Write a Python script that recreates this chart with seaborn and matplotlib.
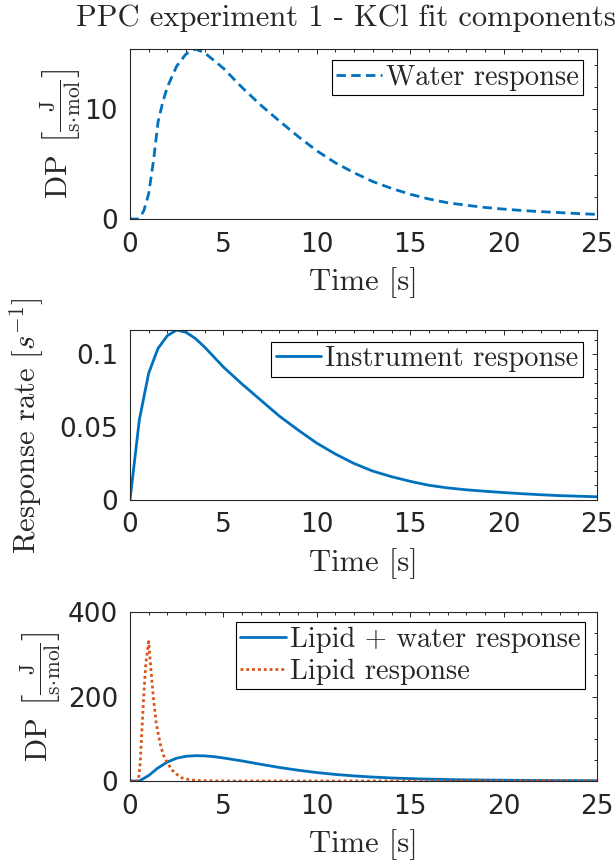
import matplotlib
matplotlib.use("Agg")
import matplotlib.pyplot as plt
from matplotlib.ticker import MultipleLocator
import pandas as pd
import seaborn as sns

# ---- fitted components of PPC experiment 1 (KCl) ----
water_t = [0, 0.5, 0.75, 1.0, 1.25, 1.5, 1.75, 2.0, 2.5, 3.0, 3.5, 4.0, 5, 6, 7, 8, 9,
           10, 11, 12, 13, 14, 15, 16, 17, 18, 19, 20, 21, 22, 23, 24, 25]
water_dp = [0, 0, 0.8, 2.3, 5.2, 8.8, 10.6, 12.0, 13.9, 15.0, 15.45, 15.1, 13.7, 11.95,
            10.35, 8.9, 7.5, 6.2, 5.1, 4.2, 3.4, 2.78, 2.25, 1.82, 1.48, 1.25, 1.05, 0.9,
            0.77, 0.67, 0.58, 0.49, 0.42]

instr_t = [0, 0.5, 1.0, 1.5, 2.0, 2.5, 3.0, 3.5, 4.0, 4.5, 5, 6, 7, 8, 9, 10, 11, 12,
           13, 14, 15, 16, 17, 18, 19, 20, 21, 22, 23, 24, 25]
instr_rate = [0, 0.055, 0.087, 0.104, 0.1127, 0.1166, 0.115, 0.1108, 0.1048, 0.098,
              0.0912, 0.0795, 0.0685, 0.0575, 0.048, 0.039, 0.0315, 0.025, 0.0198,
              0.016, 0.0128, 0.0101, 0.0083, 0.0070, 0.0060, 0.0051, 0.0043, 0.0036,
              0.0030, 0.0026, 0.0022]

lipwat_t = [0, 0.5, 1.0, 1.5, 2.0, 2.5, 3.0, 3.5, 4.0, 4.5, 5, 6, 7, 8, 9, 10, 11, 12,
            13, 14, 15, 16, 17, 18, 19, 20, 21, 22, 23, 24, 25]
lipwat_dp = [0, 0, 13, 31, 45, 54, 58.5, 60, 59.5, 57.5, 54.5, 47.5, 39.5, 32, 25.5, 20,
             15.5, 12, 9.3, 7.2, 5.6, 4.4, 3.5, 2.8, 2.3, 1.9, 1.55, 1.25, 1.0, 0.8, 0.65]

lipid_t = [0, 0.45, 0.55, 0.65, 0.75, 0.85, 1.0, 1.1, 1.25, 1.4, 1.5, 1.65, 1.8, 2.0,
           2.25, 2.5, 2.75, 3.0, 3.5, 4.0, 5, 10, 15, 20, 25]
lipid_dp = [0, 0, 45, 132, 213, 280, 330, 274, 198, 138, 114, 82, 60, 43, 26, 16, 8,
            4.5, 1.5, 0.5, 0, 0, 0, 0, 0]

x_ticks = [0, 5, 10, 15, 20, 25]
top_yticks = [0, 10]
mid_yticks = [0, 0.05, 0.1]
bot_yticks = [0, 200, 400]

title_text = "PPC experiment 1 - KCl fit components"
dp_label = r"DP $\left[\frac{\mathrm{J}}{\mathrm{s}\!\cdot\!\mathrm{mol}}\right]$"
rate_label = r"Response rate $[s^{-1}]$"
time_label = "Time [s]"

BLUE = "#0072BD"
ORANGE = "#D95319"
AX_GREY = "#262626"

sns.set_style("white")
plt.rcParams["font.family"] = ["DejaVu Sans"]
plt.rcParams["mathtext.fontset"] = "cm"
plt.rcParams["axes.formatter.use_mathtext"] = False

SERIF = "cmr10"
LABEL_SIZE = 22
TICK_SIZE = 19
LEG_SIZE = 20.5

fig = plt.figure(figsize=(6.15, 8.63), dpi=100)
W, H = 615, 863


def px_axes(left, top, right, bottom):
    return fig.add_axes([left / W, 1 - bottom / H, (right - left) / W, (bottom - top) / H])


ax1 = px_axes(130, 49, 597, 219)
ax2 = px_axes(130, 330, 597, 500)
ax3 = px_axes(130, 612, 597, 781)

df_water = pd.DataFrame({"t": water_t, "v": water_dp})
df_instr = pd.DataFrame({"t": instr_t, "v": instr_rate})
df_lipwat = pd.DataFrame({"t": lipwat_t, "v": lipwat_dp})
df_lipid = pd.DataFrame({"t": lipid_t, "v": lipid_dp})

sns.lineplot(data=df_water, x="t", y="v", ax=ax1, color=BLUE, lw=2.0,
             label="Water response")
ax1.lines[-1].set_dashes([3.4, 1.9])

sns.lineplot(data=df_instr, x="t", y="v", ax=ax2, color=BLUE, lw=2.0,
             label="Instrument response")

sns.lineplot(data=df_lipwat, x="t", y="v", ax=ax3, color=BLUE, lw=2.0,
             label="Lipid + water response")
sns.lineplot(data=df_lipid, x="t", y="v", ax=ax3, color=ORANGE, lw=2.0,
             label="Lipid response")
ax3.lines[-1].set_dashes([1.0, 1.1])

panels = [
    (ax1, top_yticks, 2, (0, max(water_dp)), dp_label, 61, 0.50, 0.970, 0.935),
    (ax2, mid_yticks, 0.01, (0, max(instr_rate)), rate_label, 27, 0.44, 0.970, 0.931),
    (ax3, bot_yticks, 50, (0, 400), dp_label, 41, 0.50, 0.974, 0.940),
]

for ax, yt, yminor, ylim, ylab, ylab_x, ylab_y, lx, ly in panels:
    ax.set_xlim(0, 25)
    ax.set_ylim(*ylim)
    ax.set_xticks(x_ticks)
    ax.set_yticks(yt)
    ax.set_yticklabels([f"{v:g}" for v in yt])
    ax.xaxis.set_minor_locator(MultipleLocator(1))
    ax.yaxis.set_minor_locator(MultipleLocator(yminor))
    ax.tick_params(which="both", direction="in", top=True, right=True,
                   colors=AX_GREY, width=0.7, labelsize=TICK_SIZE)
    ax.tick_params(axis="y", which="major", length=3.6, pad=8.6)
    ax.tick_params(axis="x", which="major", length=3.6, pad=9)
    ax.tick_params(which="minor", length=2.0)
    for sp in ax.spines.values():
        sp.set_color(AX_GREY)
        sp.set_linewidth(0.8)
        sp.set_visible(True)
    ax.set_xlabel(time_label, family=SERIF, fontsize=LABEL_SIZE, va="center")
    ax.xaxis.set_label_coords(0.5, -0.376)
    ax.set_ylabel(ylab, family=SERIF, fontsize=LABEL_SIZE, va="center")
    ax.yaxis.set_label_coords((ylab_x - 130) / 467, ylab_y)
    leg = ax.legend(loc="upper right", bbox_to_anchor=(lx, ly), borderaxespad=0,
                    prop={"family": SERIF, "size": LEG_SIZE}, frameon=True,
                    fancybox=False, edgecolor="black", framealpha=1,
                    handlelength=1.6, handletextpad=0.15, borderpad=0.15,
                    labelspacing=0.2)
    leg.get_frame().set_linewidth(0.8)

fig.text(346 / W, 1 - 18 / H, title_text, family=SERIF, fontsize=LABEL_SIZE,
         ha="center", va="center")

fig.savefig("out.png", dpi=100)
